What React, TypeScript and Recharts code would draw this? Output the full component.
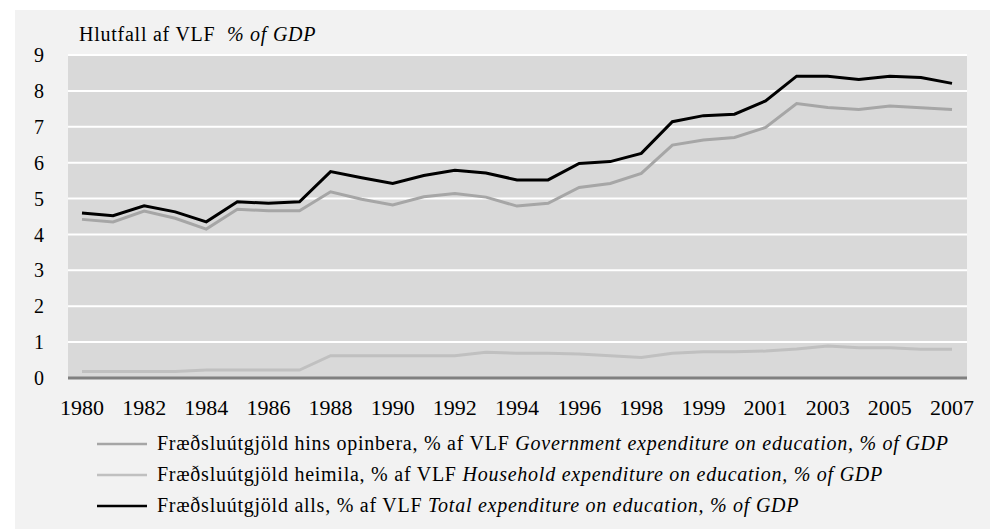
import { CartesianGrid, Line, LineChart, XAxis, YAxis } from "recharts";

const years = [
  "1980", "1981", "1982", "1983", "1984", "1985", "1986", "1987", "1988", "1989",
  "1990", "1991", "1992", "1993", "1994", "1995", "1996", "1997", "1998", "1998",
  "1999", "2000", "2001", "2002", "2003", "2004", "2005", "2006", "2007",
];

// Fræðsluútgjöld hins opinbera
const government = [
  4.42, 4.35, 4.65, 4.45, 4.15, 4.7, 4.66, 4.66, 5.19, 4.98,
  4.82, 5.05, 5.14, 5.04, 4.79, 4.87, 5.31, 5.42, 5.7, 6.49,
  6.63, 6.7, 6.98, 7.65, 7.54, 7.48, 7.58, 7.53, 7.48,
];

// Fræðsluútgjöld heimila
const household = [
  0.18, 0.18, 0.18, 0.18, 0.22, 0.22, 0.22, 0.22, 0.62, 0.62,
  0.62, 0.62, 0.62, 0.72, 0.69, 0.69, 0.67, 0.62, 0.57, 0.69,
  0.73, 0.73, 0.75, 0.81, 0.89, 0.84, 0.84, 0.8, 0.8,
];

// Fræðsluútgjöld alls
const total = [
  4.6, 4.52, 4.8, 4.63, 4.35, 4.91, 4.87, 4.91, 5.75, 5.58,
  5.42, 5.64, 5.79, 5.71, 5.52, 5.52, 5.98, 6.03, 6.26, 7.14,
  7.31, 7.35, 7.72, 8.41, 8.41, 8.32, 8.41, 8.37, 8.21,
];

const yTicks = [0, 1, 2, 3, 4, 5, 6, 7, 8, 9];

const data = years.map((year, i) => ({
  year,
  government: government[i],
  household: household[i],
  total: total[i],
}));

const FONT = "Liberation Serif, Tinos, Times, DejaVu Serif, serif";

const legendItems = [
  {
    color: "#a6a6a6",
    is: "Fræðsluútgjöld hins opinbera, % af VLF",
    en: "Government expenditure on education, % of GDP",
  },
  {
    color: "#c0c0c0",
    is: "Fræðsluútgjöld heimila, % af VLF",
    en: "Household expenditure on education, % of GDP",
  },
  {
    color: "#000000",
    is: "Fræðsluútgjöld alls, % af VLF",
    en: "Total expenditure on education, % of GDP",
  },
];

export default function App() {
  return (
    <div style={{ position: "relative", width: 1002, height: 532, background: "#fff", fontFamily: FONT }}>
      <style>{`body{margin:0}`}</style>
      <div style={{ position: "absolute", left: 15, top: 10, width: 975, height: 519, background: "#f2f2f2" }} />
      <div
        style={{
          position: "absolute",
          left: 79,
          top: 23,
          fontSize: 20,
          letterSpacing: 0.75,
          color: "#000",
          whiteSpace: "pre",
          fontFamily: FONT,
        }}
      >
        Hlutfall af VLF  <i>% of GDP</i>
      </div>
      <div style={{ position: "absolute", left: 0, top: 0 }}>
        <LineChart
          width={1002}
          height={532}
          data={data}
          margin={{ top: 55, right: 35, bottom: 124, left: 8 }}
        >
          <CartesianGrid vertical={false} stroke="#ffffff" strokeWidth={2} fill="#d9d9d9" />
          <XAxis
            dataKey="year"
            interval={1}
            tickLine={false}
            tickSize={0}
            tickMargin={21}
            axisLine={{ stroke: "#808080", strokeWidth: 3 }}
            padding={{ left: 14, right: 15 }}
            tick={{ fill: "#000", fontSize: 22, fontFamily: FONT }}
          />
          <YAxis
            width={60}
            domain={[0, 9]}
            ticks={yTicks}
            axisLine={false}
            tickLine={false}
            tickSize={0}
            tickMargin={24}
            tick={{ fill: "#000", fontSize: 20, fontFamily: FONT }}
          />
          <Line dataKey="government" stroke="#a6a6a6" strokeWidth={3} dot={false} isAnimationActive={false} />
          <Line dataKey="household" stroke="#c0c0c0" strokeWidth={3} dot={false} isAnimationActive={false} />
          <Line dataKey="total" stroke="#000000" strokeWidth={3} dot={false} isAnimationActive={false} />
        </LineChart>
      </div>
      <div style={{ position: "absolute", left: 97, top: 428, fontFamily: FONT }}>
        {legendItems.map((item) => (
          <div
            key={item.is}
            style={{ display: "flex", alignItems: "center", height: 31, fontSize: 20, letterSpacing: 0.75, whiteSpace: "pre" }}
          >
            <svg width={50} height={4} style={{ marginRight: 10 }}>
              <line x1={0} y1={2} x2={50} y2={2} stroke={item.color} strokeWidth={2.5} />
            </svg>
            <span>
              {item.is} <i>{item.en}</i>
            </span>
          </div>
        ))}
      </div>
    </div>
  );
}
